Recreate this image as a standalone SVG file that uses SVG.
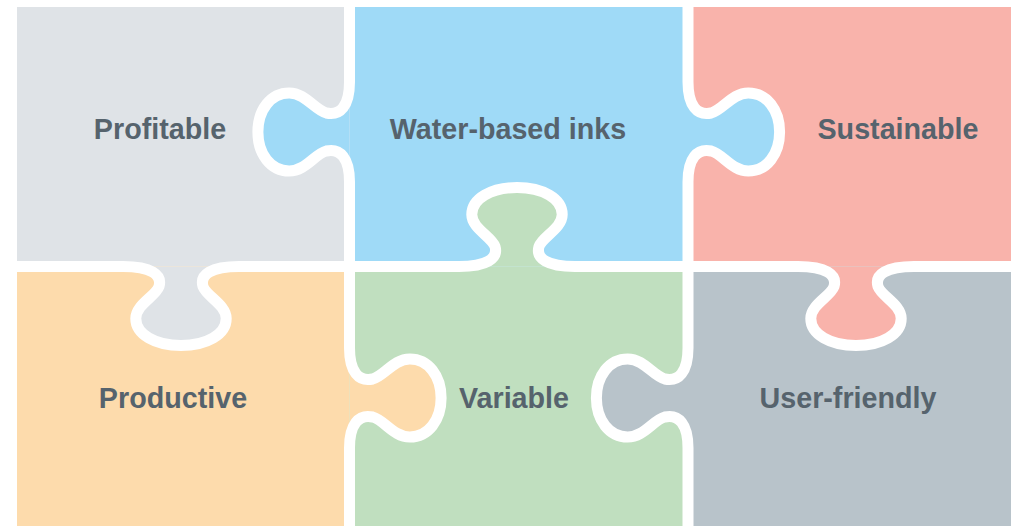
<svg xmlns="http://www.w3.org/2000/svg" width="1011" height="526" viewBox="0 0 1011 526">
<style>
.lbl{font-family:"Liberation Sans",Arial,sans-serif;font-weight:bold;font-size:28.7px;fill:#56636d;text-anchor:middle}
.cut{fill:none;stroke:#ffffff;stroke-width:11;stroke-linecap:round;stroke-linejoin:round}
</style>
<rect width="1011" height="526" fill="#ffffff"/>
<g id="cells">
<g id="profitable"><rect x="17" y="7" width="332.5" height="259.5" fill="#dfe3e7"/></g>
<g id="water-based"><rect x="349.5" y="7" width="338.5" height="259.5" fill="#9fdaf7"/></g>
<g id="sustainable"><rect x="688" y="7" width="323" height="259.5" fill="#f9b3ab"/></g>
<g id="productive"><rect x="17" y="266.5" width="332.5" height="259.5" fill="#fddbac"/></g>
<g id="variable"><rect x="349.5" y="266.5" width="338.5" height="259.5" fill="#c0dfbf"/></g>
<g id="user-friendly"><rect x="688" y="266.5" width="323" height="259.5" fill="#b8c3ca"/></g>
</g>
<g id="tabs">
<path id="profitable-tab" fill="#dfe3e7" d="M123,266.5 C150.8,266.5 162.4,274.5 159,286.5 C155.5,296.5 135.8,304.5 135.8,318.5 C135.8,334.5 155.5,345.5 181,345.5 C206.5,345.5 226.2,334.5 226.2,318.5 C226.2,304.5 206.5,296.5 203,286.5 C199.6,274.5 211.2,266.5 239,266.5 Z"/>
<path id="water-based-tab-left" fill="#9fdaf7" d="M349.5,82 C349.5,106 340.2,116 326.3,113 C314.7,110 305.4,93 289.2,93 C270.6,93 257.9,110 257.9,132 C257.9,154 270.6,171 289.2,171 C305.4,171 314.7,154 326.3,151 C340.2,148 349.5,158 349.5,182 Z"/>
<path id="water-based-tab-right" fill="#9fdaf7" d="M688,82 C688,106 697.3,116 711.2,113 C722.8,110 732.1,93 748.3,93 C766.9,93 779.6,110 779.6,132 C779.6,154 766.9,171 748.3,171 C732.1,171 722.8,154 711.2,151 C697.3,148 688,158 688,182 Z"/>
<path id="sustainable-tab" fill="#f9b3ab" d="M798,266.5 C825.8,266.5 837.4,274.5 834,286.5 C830.5,296.5 810.8,304.5 810.8,318.5 C810.8,334.5 830.5,345.5 856,345.5 C881.5,345.5 901.2,334.5 901.2,318.5 C901.2,304.5 881.5,296.5 878,286.5 C874.6,274.5 886.2,266.5 914,266.5 Z"/>
<path id="productive-tab" fill="#fddbac" d="M349.5,348 C349.5,372 358.8,382 372.7,379 C384.3,376 393.6,359 409.8,359 C428.4,359 441.1,376 441.1,398 C441.1,420 428.4,437 409.8,437 C393.6,437 384.3,420 372.7,417 C358.8,414 349.5,424 349.5,448 Z"/>
<path id="variable-tab" fill="#c0dfbf" d="M459,266.5 C486.8,266.5 498.4,258.5 495,246.5 C491.5,236.5 471.8,228.5 471.8,214.5 C471.8,198.5 491.5,187.5 517,187.5 C542.5,187.5 562.2,198.5 562.2,214.5 C562.2,228.5 542.5,236.5 539,246.5 C535.6,258.5 547.2,266.5 575,266.5 Z"/>
<path id="user-friendly-tab" fill="#b8c3ca" d="M688,348 C688,372 678.7,382 664.8,379 C653.2,376 643.9,359 627.7,359 C609.1,359 596.4,376 596.4,398 C596.4,420 609.1,437 627.7,437 C643.9,437 653.2,420 664.8,417 C678.7,414 688,424 688,448 Z"/>
</g>
<g id="connectors">
<path class="cut" d="M349.5,0 L349.5,82 C349.5,106 340.2,116 326.3,113 C314.7,110 305.4,93 289.2,93 C270.6,93 257.9,110 257.9,132 C257.9,154 270.6,171 289.2,171 C305.4,171 314.7,154 326.3,151 C340.2,148 349.5,158 349.5,182 L349.5,348 C349.5,372 358.8,382 372.7,379 C384.3,376 393.6,359 409.8,359 C428.4,359 441.1,376 441.1,398 C441.1,420 428.4,437 409.8,437 C393.6,437 384.3,420 372.7,417 C358.8,414 349.5,424 349.5,448 L349.5,530"/>
<path class="cut" d="M688,0 L688,82 C688,106 697.3,116 711.2,113 C722.8,110 732.1,93 748.3,93 C766.9,93 779.6,110 779.6,132 C779.6,154 766.9,171 748.3,171 C732.1,171 722.8,154 711.2,151 C697.3,148 688,158 688,182 L688,348 C688,372 678.7,382 664.8,379 C653.2,376 643.9,359 627.7,359 C609.1,359 596.4,376 596.4,398 C596.4,420 609.1,437 627.7,437 C643.9,437 653.2,420 664.8,417 C678.7,414 688,424 688,448 L688,530"/>
<path class="cut" d="M0,266.5 L123,266.5 C150.8,266.5 162.4,274.5 159,286.5 C155.5,296.5 135.8,304.5 135.8,318.5 C135.8,334.5 155.5,345.5 181,345.5 C206.5,345.5 226.2,334.5 226.2,318.5 C226.2,304.5 206.5,296.5 203,286.5 C199.6,274.5 211.2,266.5 239,266.5 L459,266.5 C486.8,266.5 498.4,258.5 495,246.5 C491.5,236.5 471.8,228.5 471.8,214.5 C471.8,198.5 491.5,187.5 517,187.5 C542.5,187.5 562.2,198.5 562.2,214.5 C562.2,228.5 542.5,236.5 539,246.5 C535.6,258.5 547.2,266.5 575,266.5 L798,266.5 C825.8,266.5 837.4,274.5 834,286.5 C830.5,296.5 810.8,304.5 810.8,318.5 C810.8,334.5 830.5,345.5 856,345.5 C881.5,345.5 901.2,334.5 901.2,318.5 C901.2,304.5 881.5,296.5 878,286.5 C874.6,274.5 886.2,266.5 914,266.5 L1020,266.5"/>
</g>
<g id="labels">
<text class="lbl" x="160" y="139">Profitable</text>
<text class="lbl" x="508" y="139">Water-based inks</text>
<text class="lbl" x="898" y="139">Sustainable</text>
<text class="lbl" x="173" y="408">Productive</text>
<text class="lbl" x="514" y="408">Variable</text>
<text class="lbl" x="848" y="408">User-friendly</text>
</g>
</svg>
